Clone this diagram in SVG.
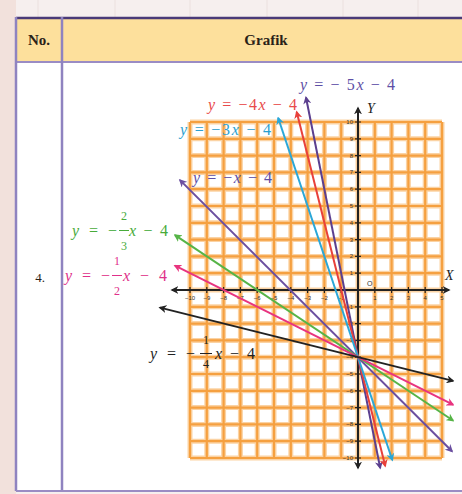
<svg xmlns="http://www.w3.org/2000/svg" width="462" height="494" viewBox="0 0 462 494">
<style>
.hdr{font-family:"Liberation Serif",serif;font-weight:bold;font-size:15px;fill:#2a2218}
.lbl{font-family:"Liberation Serif",serif;font-size:16px}
.fr{font-family:"Liberation Serif",serif;font-size:12px}
.tick{font-family:"Liberation Sans",sans-serif;font-size:6px;fill:#333}
.ax{font-family:"Liberation Serif",serif;font-style:italic;font-size:14px;fill:#222}
.gl{stroke:#fbd3a4;stroke-width:5;fill:none}
.g{stroke:#f5a040;stroke-width:2.2;fill:none}
.ln{fill:none;stroke-width:2}
</style>
<defs>
<marker id="mk" viewBox="0 0 10 10" refX="8" refY="5" markerWidth="4" markerHeight="4" orient="auto-start-reverse"><path d="M0,0 L10,5 L0,10 L3,5 Z" fill="#222"/></marker>
<marker id="mp" viewBox="0 0 10 10" refX="8" refY="5" markerWidth="4" markerHeight="4" orient="auto-start-reverse"><path d="M0,0 L10,5 L0,10 L3,5 Z" fill="#5b3f8f"/></marker>
<marker id="mr" viewBox="0 0 10 10" refX="8" refY="5" markerWidth="4" markerHeight="4" orient="auto-start-reverse"><path d="M0,0 L10,5 L0,10 L3,5 Z" fill="#e8403a"/></marker>
<marker id="mc" viewBox="0 0 10 10" refX="8" refY="5" markerWidth="4" markerHeight="4" orient="auto-start-reverse"><path d="M0,0 L10,5 L0,10 L3,5 Z" fill="#2aa7d8"/></marker>
<marker id="mv" viewBox="0 0 10 10" refX="8" refY="5" markerWidth="4" markerHeight="4" orient="auto-start-reverse"><path d="M0,0 L10,5 L0,10 L3,5 Z" fill="#6b4fa0"/></marker>
<marker id="mg" viewBox="0 0 10 10" refX="8" refY="5" markerWidth="4" markerHeight="4" orient="auto-start-reverse"><path d="M0,0 L10,5 L0,10 L3,5 Z" fill="#56b447"/></marker>
<marker id="mm" viewBox="0 0 10 10" refX="8" refY="5" markerWidth="4" markerHeight="4" orient="auto-start-reverse"><path d="M0,0 L10,5 L0,10 L3,5 Z" fill="#e8347f"/></marker>
</defs>
<!-- background -->
<rect x="0" y="0" width="462" height="494" fill="#f6efee"/>
<rect x="0" y="0" width="16" height="494" fill="#f2e1dc"/>
<g stroke="#ebe0de" stroke-width="1">
<path d="M38,0V17 M115,0V17 M190,0V17 M267,0V17 M343,0V17 M418,0V17"/>
</g>
<!-- table -->
<g id="table">
<rect x="16" y="17" width="450" height="474" fill="#ffffff"/>
<rect x="16" y="17" width="450" height="45" fill="#fde09c"/>
<path d="M16,18H462" stroke="#4a3a78" stroke-width="2.5"/>
<path d="M16,62H462" stroke="#9a8cc4" stroke-width="2"/>
<path d="M16,17V491 M62,17V491" stroke="#8f83c0" stroke-width="2.5"/>
<path d="M16,491H462" stroke="#9a8cc4" stroke-width="2"/>
<text class="hdr" x="39" y="45" text-anchor="middle">No.</text>
<text class="hdr" x="266" y="45" text-anchor="middle">Grafik</text>
<text class="hdr" x="40" y="282" text-anchor="middle" style="font-weight:normal;font-size:13px">4.</text>
</g>
<!-- grid -->
<g id="grid">
<path class="gl" d="M190,122V458 M206.8,122V458 M223.6,122V458 M240.4,122V458 M257.2,122V458 M274,122V458 M290.8,122V458 M307.6,122V458 M324.4,122V458 M341.2,122V458 M358,122V458 M374.8,122V458 M391.6,122V458 M408.4,122V458 M425.2,122V458 M442,122V458 M190,122H442 M190,138.8H442 M190,155.6H442 M190,172.4H442 M190,189.2H442 M190,206H442 M190,222.8H442 M190,239.6H442 M190,256.4H442 M190,273.2H442 M190,290H442 M190,306.8H442 M190,323.6H442 M190,340.4H442 M190,357.2H442 M190,374H442 M190,390.8H442 M190,407.6H442 M190,424.4H442 M190,441.2H442 M190,458H442"/>
<path class="g" d="M190,122V458 M206.8,122V458 M223.6,122V458 M240.4,122V458 M257.2,122V458 M274,122V458 M290.8,122V458 M307.6,122V458 M324.4,122V458 M341.2,122V458 M358,122V458 M374.8,122V458 M391.6,122V458 M408.4,122V458 M425.2,122V458 M442,122V458 M190,122H442 M190,138.8H442 M190,155.6H442 M190,172.4H442 M190,189.2H442 M190,206H442 M190,222.8H442 M190,239.6H442 M190,256.4H442 M190,273.2H442 M190,290H442 M190,306.8H442 M190,323.6H442 M190,340.4H442 M190,357.2H442 M190,374H442 M190,390.8H442 M190,407.6H442 M190,424.4H442 M190,441.2H442 M190,458H442"/>
</g>
<!-- axes -->
<g id="axes">
<path d="M172,290H449" stroke="#222" stroke-width="2" marker-start="url(#mk)" marker-end="url(#mk)"/>
<path d="M358,108V468" stroke="#222" stroke-width="2" marker-start="url(#mk)" marker-end="url(#mk)"/>
<g stroke="#222" stroke-width="1.2">
<path d="M190,287V293 M206.8,287V293 M223.6,287V293 M240.4,287V293 M257.2,287V293 M274,287V293 M290.8,287V293 M307.6,287V293 M324.4,287V293 M341.2,287V293 M374.8,287V293 M391.6,287V293 M408.4,287V293 M425.2,287V293 M442,287V293"/>
<path d="M355,122H361 M355,138.8H361 M355,155.6H361 M355,172.4H361 M355,189.2H361 M355,206H361 M355,222.8H361 M355,239.6H361 M355,256.4H361 M355,273.2H361 M355,306.8H361 M355,323.6H361 M355,340.4H361 M355,357.2H361 M355,374H361 M355,390.8H361 M355,407.6H361 M355,424.4H361 M355,441.2H361 M355,458H361"/>
</g>
<g class="tick" text-anchor="middle">
<text x="190" y="300">−10</text><text x="206.8" y="300">−9</text><text x="223.6" y="300">−8</text><text x="240.4" y="300">−7</text><text x="257.2" y="300">−6</text><text x="274" y="300">−5</text><text x="290.8" y="300">−4</text><text x="307.6" y="300">−3</text><text x="324.4" y="300">−2</text><text x="341.2" y="300">−1</text>
<text x="374.8" y="300">1</text><text x="391.6" y="300">2</text><text x="408.4" y="300">3</text><text x="425.2" y="300">4</text><text x="442" y="300">5</text>
</g>
<g class="tick" text-anchor="end">
<text x="353" y="124">10</text><text x="353" y="140.8">9</text><text x="353" y="157.6">8</text><text x="353" y="174.4">7</text><text x="353" y="191.2">6</text><text x="353" y="208">5</text><text x="353" y="224.8">4</text><text x="353" y="241.6">3</text><text x="353" y="258.4">2</text><text x="353" y="275.2">1</text>
<text x="353" y="308.8">−1</text><text x="353" y="325.6">−2</text><text x="353" y="342.4">−3</text><text x="353" y="359.2">−4</text><text x="353" y="376">−5</text><text x="353" y="392.8">−6</text><text x="353" y="409.6">−7</text><text x="353" y="426.4">−8</text><text x="353" y="443.2">−9</text><text x="353" y="460">−10</text>
</g>
<text class="ax" x="367" y="113">Y</text>
<text class="ax" x="445" y="280">X</text>
<text class="tick" x="367" y="286" style="font-size:7px">O</text>
</g>
<!-- connectors: graph lines -->
<g id="lines">
<path class="ln" d="M306,97.5L380.2,468" stroke="#5b3f8f" marker-start="url(#mp)" marker-end="url(#mp)"/>
<path class="ln" d="M296.7,112L385.2,466" stroke="#e8403a" marker-start="url(#mr)" marker-end="url(#mr)"/>
<path class="ln" d="M278.2,118L392.3,460" stroke="#2aa7d8" marker-start="url(#mc)" marker-end="url(#mc)"/>
<path class="ln" d="M180,180.1L452,451.3" stroke="#6b4fa0" marker-start="url(#mv)" marker-end="url(#mv)"/>
<path class="ln" d="M175,235.2L453,420.5" stroke="#56b447" marker-start="url(#mg)" marker-end="url(#mg)"/>
<path class="ln" d="M175,265.7L453,404.7" stroke="#e8347f" marker-start="url(#mm)" marker-end="url(#mm)"/>
<path class="ln" d="M160,307.6L453,380.9" stroke="#222" marker-start="url(#mk)" marker-end="url(#mk)"/>
</g>
<!-- labels -->
<g id="label-5x" fill="#5e4fa6">
<text class="lbl" x="300" y="90" textLength="95" lengthAdjust="spacing"><tspan font-style="italic">y</tspan> = − 5<tspan font-style="italic">x</tspan> − 4</text>
</g>
<g id="label-4x" fill="#e84a4a">
<text class="lbl" x="208" y="110" textLength="89" lengthAdjust="spacing"><tspan font-style="italic">y</tspan> = −4<tspan font-style="italic">x</tspan> − 4</text>
</g>
<g id="label-3x" fill="#2a9fd0">
<text class="lbl" x="180" y="135" textLength="91" lengthAdjust="spacing"><tspan font-style="italic">y</tspan> = −3<tspan font-style="italic">x</tspan> − 4</text>
</g>
<g id="label-x" fill="#5e4fa6">
<text class="lbl" x="193" y="183" textLength="79" lengthAdjust="spacing"><tspan font-style="italic">y</tspan> = −<tspan font-style="italic">x</tspan> − 4</text>
</g>
<g id="label-23x" fill="#48ab3a">
<text class="lbl" x="72" y="236" textLength="45" lengthAdjust="spacing"><tspan font-style="italic">y</tspan> = −</text>
<text class="fr" x="124" y="220" text-anchor="middle">2</text>
<path d="M119,230.5H129" stroke="#48ab3a" stroke-width="1"/>
<text class="fr" x="124" y="250" text-anchor="middle">3</text>
<text class="lbl" x="129" y="236" textLength="39" lengthAdjust="spacing"><tspan font-style="italic">x</tspan> − 4</text>
</g>
<g id="label-12x" fill="#e0308a">
<text class="lbl" x="65" y="281" textLength="45" lengthAdjust="spacing"><tspan font-style="italic">y</tspan> = −</text>
<text class="fr" x="117" y="265" text-anchor="middle">1</text>
<path d="M112,275.5H122" stroke="#e0308a" stroke-width="1"/>
<text class="fr" x="117" y="295" text-anchor="middle">2</text>
<text class="lbl" x="123" y="281" textLength="44" lengthAdjust="spacing"><tspan font-style="italic">x</tspan> − 4</text>
</g>
<g id="label-14x" fill="#222">
<text class="lbl" x="150" y="359" textLength="45" lengthAdjust="spacing"><tspan font-style="italic">y</tspan> = −</text>
<text class="fr" x="206" y="344" text-anchor="middle">1</text>
<path d="M200,353.5H212" stroke="#222" stroke-width="1"/>
<text class="fr" x="206" y="368" text-anchor="middle">4</text>
<text class="lbl" x="215" y="359" textLength="40" lengthAdjust="spacing"><tspan font-style="italic">x</tspan> − 4</text>
</g>
</svg>
